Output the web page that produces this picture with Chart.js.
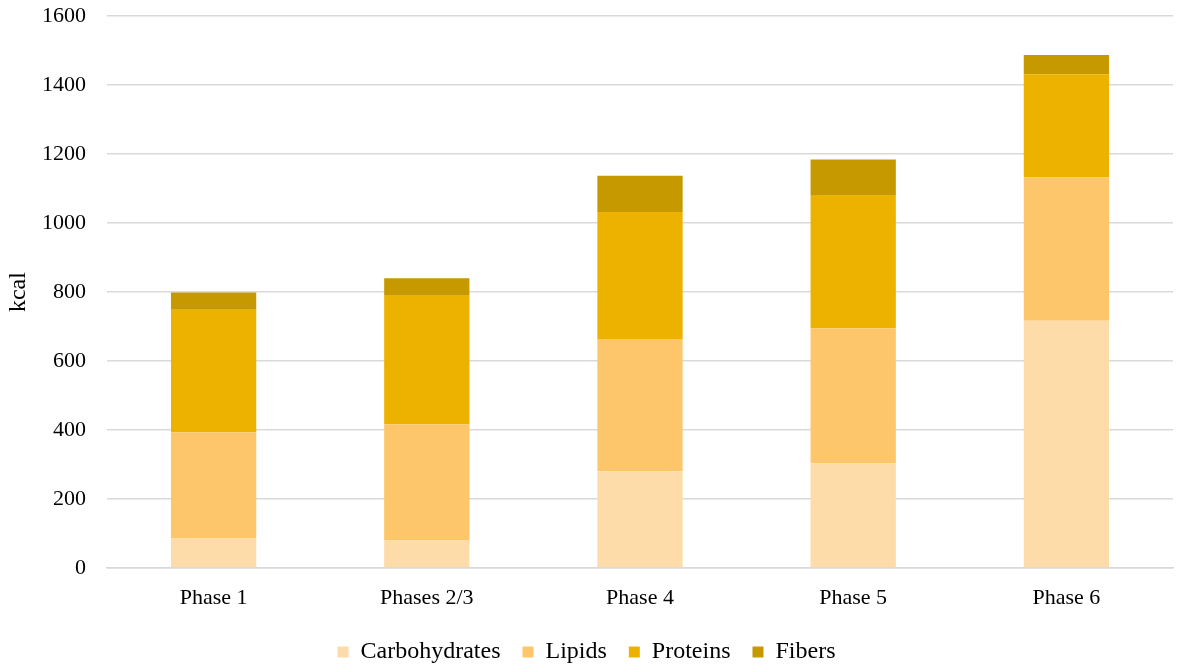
<!DOCTYPE html>
<html><head><meta charset="utf-8">
<script src="https://cdn.jsdelivr.net/npm/chart.js@4"></script>
<style>html,body{margin:0;padding:0;background:#fff;}#wrap{width:1181px;height:669px;}</style>
</head><body><div id="wrap"><canvas id="c" width="1181" height="669"></canvas></div>
<script>
const categories = ["Phase 1", "Phases 2/3", "Phase 4", "Phase 5", "Phase 6"];
const carbohydrates = [86, 80, 281, 304, 717];
const lipids = [308, 337, 383, 391, 415];
const proteins = [355, 372, 368, 384, 299];
const fibers = [50, 51, 105, 105, 56];
const yTicks = [0, 200, 400, 600, 800, 1000, 1200, 1400, 1600];

const fam = "'Liberation Serif', 'Times New Roman', serif";
const tickFont = {family: fam, size: 22};
const legFont = {family: fam, size: 24};
new Chart(document.getElementById('c'), {
  type: 'bar',
  data: {
    labels: categories,
    datasets: [
      {label: 'Carbohydrates', data: carbohydrates, backgroundColor: '#FEDCA9'},
      {label: 'Lipids', data: lipids, backgroundColor: '#FEC66A'},
      {label: 'Proteins', data: proteins, backgroundColor: '#EDB200'},
      {label: 'Fibers', data: fibers, backgroundColor: '#C79900'}
    ]
  },
  options: {
    responsive: false,
    animation: false,
    devicePixelRatio: 1,
    layout: {padding: {left: 0, right: 8, top: 16, bottom: -5}},
    datasets: {bar: {categoryPercentage: 1, barPercentage: 0.4}},
    plugins: {
      legend: {
        position: 'bottom',
        labels: {font: legFont, color: '#000', boxWidth: 11, boxHeight: 11, padding: 22}
      },
      tooltip: {enabled: false}
    },
    scales: {
      x: {
        stacked: true,
        grid: {display: false, drawTicks: false},
        border: {display: true, color: '#d9d9d9', width: 1.5},
        ticks: {font: tickFont, color: '#000', padding: 17},
        afterFit: (s) => { s.height = s.height - 10.5; }
      },
      y: {
        stacked: true,
        min: 0, max: 1600,
        afterBuildTicks: (s) => { s.ticks = yTicks.map(v => ({value: v})); },
        afterFit: (s) => { s.width = 107; },
        grid: {color: '#d9d9d9', lineWidth: 1.5, drawTicks: true, tickLength: 21, tickColor: 'rgba(0,0,0,0)'},
        border: {display: false},
        ticks: {font: tickFont, color: '#000', padding: 0, callback: (v) => String(v)},
        title: {display: true, text: 'kcal', font: legFont, color: '#000', padding: 4}
      }
    }
  }
});
</script></body></html>
